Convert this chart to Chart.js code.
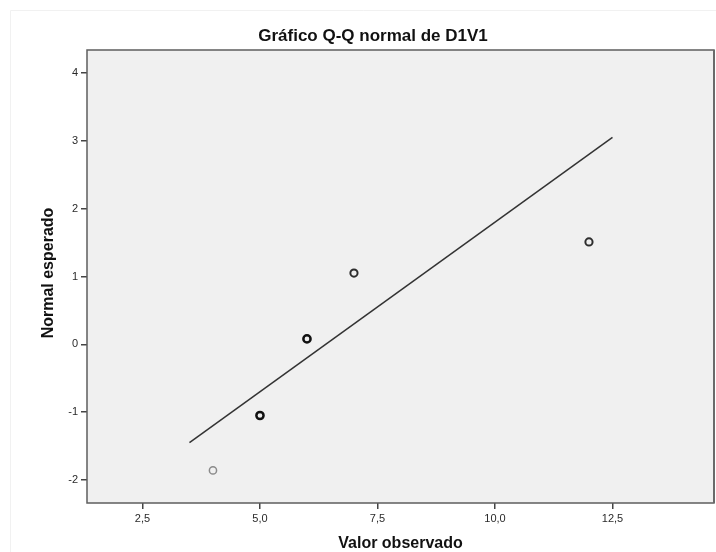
<!DOCTYPE html>
<html>
<head>
<meta charset="utf-8">
<script src="https://cdn.jsdelivr.net/npm/chart.js@4/dist/chart.umd.min.js"></script>
<style>
html,body{margin:0;padding:0;background:#fff;}
#wrap{width:716px;height:552px;position:relative;}
</style>
</head>
<body>
<div id="wrap"><canvas id="c" width="716" height="552"></canvas></div>
<script>
// ---- data ----
const chartTitle = "Gráfico Q-Q normal de D1V1";
const xTitle = "Valor observado";
const yTitle = "Normal esperado";
const observed = [4, 5, 6, 7, 12];
const expectedNormal = [-1.86, -1.05, 0.08, 1.05, 1.51];
const lineX = [3.5, 12.5];
const lineY = [-1.45, 3.05];
const xTickValues = [2.5, 5.0, 7.5, 10.0, 12.5];
const yTickValues = [-2, -1, 0, 1, 2, 3, 4];
const xRange = [1.32, 14.66];
const yRange = [-2.34, 4.34];

// point styles (ties drawn darker)
const ptColors = ['#8a8a8a', '#111111', '#111111', '#2e2e2e', '#2e2e2e'];
const ptWidths = [1.5, 2.5, 2.5, 2, 2];

const FONT = "'Liberation Sans', Arial, sans-serif";

const bgPlugin = {
  id: 'bgPlugin',
  beforeDraw(chart) {
    const {ctx, chartArea: a} = chart;
    ctx.save();
    // faint outer frame
    ctx.strokeStyle = '#f1f1f1';
    ctx.lineWidth = 1;
    ctx.beginPath();
    ctx.moveTo(10.5, 552); ctx.lineTo(10.5, 10.5); ctx.lineTo(716, 10.5);
    ctx.stroke();
    ctx.fillStyle = '#f0f0f0';
    ctx.fillRect(a.left, a.top, a.right - a.left, a.bottom - a.top);
    ctx.restore();
  },
  afterDraw(chart) {
    const {ctx, chartArea: a} = chart;
    ctx.save();
    ctx.strokeStyle = '#5e5e5e';
    ctx.lineWidth = 1.5;
    ctx.strokeRect(a.left, a.top, a.right - a.left, a.bottom - a.top);
    ctx.strokeStyle = '#6a6a6a';
    ctx.lineWidth = 2;
    ctx.beginPath(); ctx.moveTo(a.right, a.top); ctx.lineTo(a.right, a.bottom); ctx.stroke();
    // titles
    ctx.fillStyle = '#111';
    ctx.textAlign = 'center';
    ctx.textBaseline = 'middle';
    ctx.font = "bold 17px " + FONT;
    ctx.fillText(chartTitle, 373, 36);
    ctx.font = "bold 16px " + FONT;
    ctx.fillText(xTitle, (a.left + a.right) / 2, 544);
    ctx.translate(49, 273);
    ctx.rotate(-Math.PI / 2);
    ctx.fillText(yTitle, 0, 0);
    ctx.restore();
  }
};

const pts = observed.map((x, i) => ({x: x, y: expectedNormal[i]}));
const linePts = lineX.map((x, i) => ({x: x, y: lineY[i]}));

new Chart(document.getElementById('c'), {
  type: 'scatter',
  data: {
    datasets: [
      {
        data: linePts,
        showLine: true,
        borderColor: '#333',
        borderWidth: 1.5,
        pointRadius: 0,
        fill: false
      },
      {
        data: pts,
        pointRadius: 3.6,
        pointBorderColor: ptColors,
        pointBorderWidth: ptWidths,
        pointBackgroundColor: 'rgba(0,0,0,0)',
        showLine: false
      }
    ]
  },
  options: {
    responsive: false,
    animation: false,
    layout: {autoPadding: false, padding: {left: 0, top: 50, right: 2, bottom: 0}},
    plugins: {legend: {display: false}, tooltip: {enabled: false}, title: {display: false}},
    scales: {
      x: {
        type: 'linear',
        min: xRange[0], max: xRange[1],
        afterBuildTicks(s) { s.ticks = xTickValues.map(v => ({value: v})); },
        afterFit(s) { s.height = 49; },
        grid: {drawOnChartArea: false, drawTicks: true, tickLength: 6, color: '#444', lineWidth: 1.5},
        border: {display: false},
        ticks: {
          padding: 3,
          color: '#2a2a2a',
          font: {family: FONT, size: 11},
          maxRotation: 0,
          autoSkip: false,
          callback: v => v.toFixed(1).replace('.', ',')
        }
      },
      y: {
        type: 'linear',
        min: yRange[0], max: yRange[1],
        afterBuildTicks(s) { s.ticks = yTickValues.map(v => ({value: v})); },
        afterFit(s) { s.width = 87; },
        grid: {drawOnChartArea: false, drawTicks: true, tickLength: 6, color: '#444', lineWidth: 1.5},
        border: {display: false},
        ticks: {
          padding: 3,
          color: '#2a2a2a',
          font: {family: FONT, size: 11},
          autoSkip: false,
          callback: v => String(v)
        }
      }
    }
  },
  plugins: [bgPlugin]
});
</script>
</body>
</html>
